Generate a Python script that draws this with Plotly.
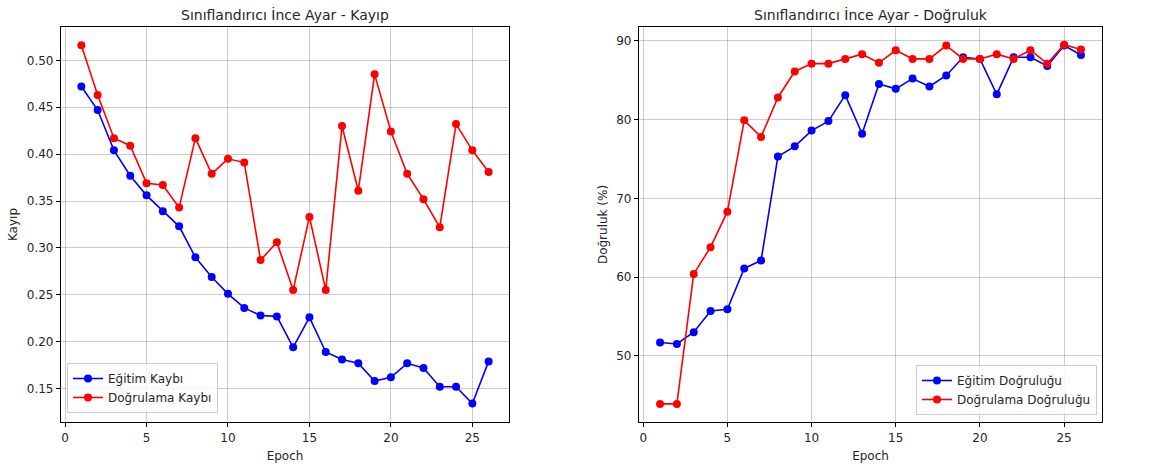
import plotly.graph_objects as go

# Training history of the classifier fine-tuning run
epochs = list(range(1, 27))

train_loss = [0.472, 0.447, 0.404, 0.377, 0.356, 0.339, 0.323, 0.290, 0.269, 0.251,
              0.236, 0.228, 0.227, 0.194, 0.226, 0.189, 0.181, 0.177, 0.158, 0.162,
              0.177, 0.172, 0.152, 0.152, 0.134, 0.179]
val_loss = [0.516, 0.463, 0.417, 0.409, 0.369, 0.367, 0.343, 0.417, 0.379, 0.395,
            0.391, 0.287, 0.306, 0.255, 0.333, 0.255, 0.430, 0.361, 0.485, 0.424,
            0.379, 0.352, 0.322, 0.432, 0.404, 0.381]

train_acc = [51.7, 51.5, 53.0, 55.7, 55.9, 61.1, 62.1, 75.3, 76.6, 78.6,
             79.8, 83.1, 78.2, 84.5, 83.9, 85.2, 84.2, 85.6, 87.9, 87.7,
             83.2, 87.9, 87.9, 86.8, 89.4, 88.2]
val_acc = [43.9, 43.9, 60.4, 63.8, 68.3, 79.9, 77.8, 82.8, 86.1, 87.1,
           87.1, 87.7, 88.3, 87.2, 88.8, 87.7, 87.7, 89.4, 87.7, 87.7,
           88.3, 87.7, 88.8, 87.1, 89.5, 88.9]

x_ticks = [0, 5, 10, 15, 20, 25]

BLUE = "#0000ff"
RED = "#ff0000"
FONT = "DejaVu Sans"
TXT = "#262626"

fig = go.Figure()


def add_series(x, y, name, color, xa, ya, legend):
    fig.add_trace(go.Scatter(
        x=x, y=y, name=name, mode="lines+markers",
        line=dict(color=color, width=1.6),
        marker=dict(color=color, size=8),
        xaxis=xa, yaxis=ya, legend=legend,
    ))


add_series(epochs, train_loss, "Eğitim Kaybı", BLUE, "x", "y", "legend")
add_series(epochs, val_loss, "Doğrulama Kaybı", RED, "x", "y", "legend")
add_series(epochs, train_acc, "Eğitim Doğruluğu", BLUE, "x2", "y2", "legend2")
add_series(epochs, val_acc, "Doğrulama Doğruluğu", RED, "x2", "y2", "legend2")

W, H = 1160, 470
left_dom = [61 / W, 509 / W]
right_dom = [639 / W, 1102 / W]
y_dom = [1 - 422 / H, 1 - 27 / H]

axis_common = dict(
    showline=True, linecolor="black", linewidth=1.2, mirror=True,
    ticks="outside", ticklen=4, tickcolor="black",
    showgrid=True, gridcolor="rgba(0,0,0,0.2)", gridwidth=1,
    zeroline=False, tickfont=dict(family=FONT, size=12, color=TXT),
)
title_font = dict(family=FONT, size=12, color=TXT)
legend_common = dict(
    bgcolor="rgba(255,255,255,0.8)", bordercolor="#cccccc", borderwidth=1,
    font=dict(family=FONT, size=12, color=TXT), tracegroupgap=0, itemwidth=30,
)

fig.update_layout(
    width=W, height=H,
    margin=dict(l=0, r=0, t=0, b=0),
    paper_bgcolor="white", plot_bgcolor="white",
    font=dict(family=FONT, size=12, color=TXT),
    xaxis=dict(domain=left_dom, range=[-0.25, 27.25], tickvals=x_ticks,
               anchor="y", title=dict(text="Epoch", font=title_font, standoff=8),
               **axis_common),
    yaxis=dict(domain=y_dom, range=[0.1144, 0.5355], dtick=0.05, tickformat=".2f",
               anchor="x", title=dict(text="Kayıp", font=title_font, standoff=6),
               **axis_common),
    xaxis2=dict(domain=right_dom, range=[-0.25, 27.25], tickvals=x_ticks,
                anchor="y2", title=dict(text="Epoch", font=title_font, standoff=8),
                **axis_common),
    yaxis2=dict(domain=y_dom, range=[41.6, 91.75], dtick=10,
                anchor="x2", title=dict(text="Doğruluk (%)", font=title_font, standoff=6),
                **axis_common),
    legend=dict(x=67 / W, y=1 - 413 / H, xanchor="left", yanchor="bottom", **legend_common),
    legend2=dict(x=1097 / W, y=1 - 415 / H, xanchor="right", yanchor="bottom", **legend_common),
    annotations=[
        dict(text="Sınıflandırıcı İnce Ayar - Kayıp", x=sum(left_dom) / 2, y=1 - 14 / H,
             xref="paper", yref="paper", xanchor="center", yanchor="middle", showarrow=False,
             font=dict(family=FONT, size=14, color=TXT)),
        dict(text="Sınıflandırıcı İnce Ayar - Doğruluk", x=sum(right_dom) / 2, y=1 - 14 / H,
             xref="paper", yref="paper", xanchor="center", yanchor="middle", showarrow=False,
             font=dict(family=FONT, size=14, color=TXT)),
    ],
)

fig.write_html("out.html")
